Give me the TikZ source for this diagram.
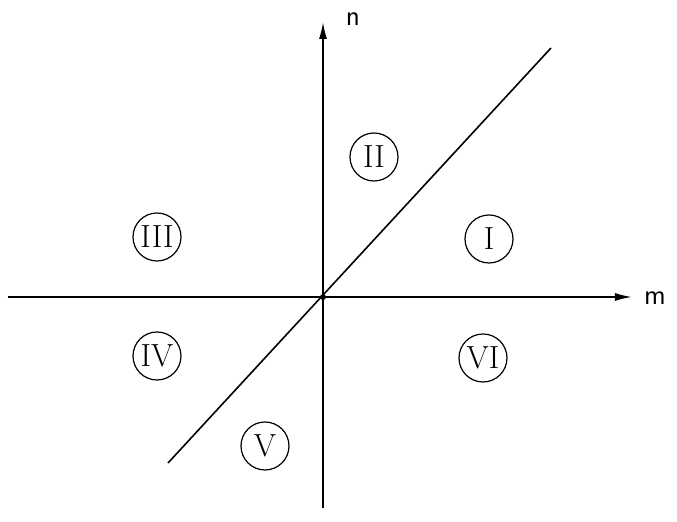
\documentclass[tikz,border=0pt]{standalone}
\usetikzlibrary{arrows.meta}
\begin{document}
\begin{tikzpicture}[x=0.5pt,y=-0.5pt,
  region/.style={draw, circle, line width=0.6pt, minimum size=24pt, inner sep=0pt,
    font=\fontsize{16}{16}\selectfont},
  axis/.style={line width=0.8pt, -{Latex[length=8.5pt,width=4pt]}},
  axlabel/.style={font=\sffamily\fontsize{14}{14}\selectfont}]
  \useasboundingbox (0,0) rectangle (677,522);
  % axes
  \coordinate (O) at (323,297);
  \coordinate (mleft) at (8,297);
  \coordinate (mright) at (632,297);
  \coordinate (nlow) at (323,508);
  \coordinate (ntop) at (323,22);
  \draw[axis] (mleft) -- (mright);
  \draw[axis] (nlow) -- (ntop);
  \node[axlabel] (m) at (655,298) {m};
  \node[axlabel] (n) at (353,19) {n};
  % diagonal through the origin
  \coordinate (dlow) at (168,463);
  \coordinate (dhigh) at (551,48);
  \draw[line width=0.8pt] (dlow) -- (dhigh);
  \fill (O) circle (1.5pt);
  % regions
  \node[region] (r1) at (489,239) {I};
  \node[region] (r2) at (374,157) {II};
  \node[region] (r3) at (157,237) {III};
  \node[region] (r4) at (157,356) {IV};
  \node[region] (r5) at (265,446) {V};
  \node[region] (r6) at (483,358) {VI};
\end{tikzpicture}
\end{document}
